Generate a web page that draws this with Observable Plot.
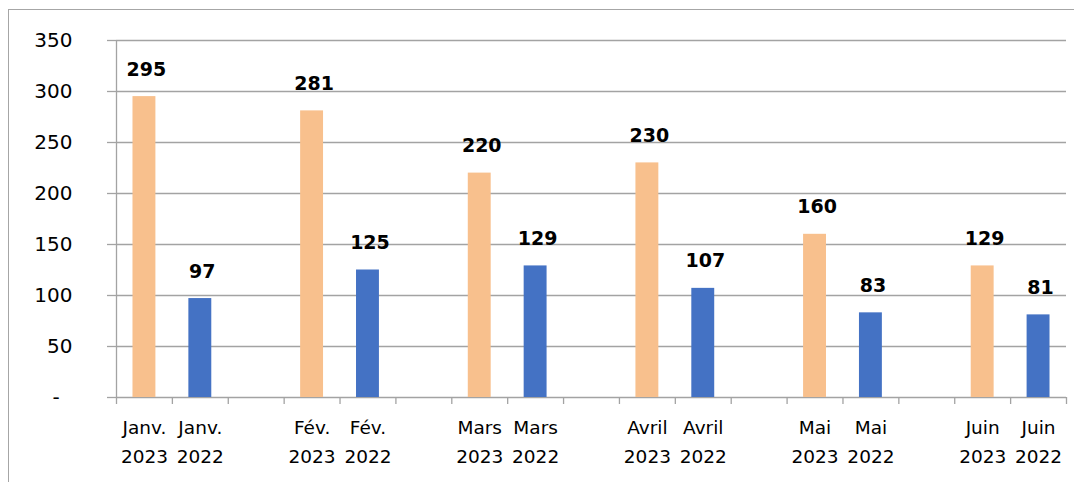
<!DOCTYPE html>
<html><head><meta charset="utf-8">
<script src="https://cdn.jsdelivr.net/npm/d3@7"></script>
<script src="https://cdn.jsdelivr.net/npm/@observablehq/plot@0.6"></script>
<style>
body{margin:0;background:#fff;}
#wrap{position:relative;width:1074px;height:482px;overflow:hidden;}
#border{position:absolute;left:8px;top:9px;right:-4px;bottom:-4px;border-top:1.5px solid #a6a6a6;border-left:1.5px solid #a6a6a6;pointer-events:none;}
</style></head><body><div id="wrap"><div id="border"></div></div>
<script>
const months = ["Janv.","Fév.","Mars","Avril","Mai","Juin"];
const years = ["2023","2022"];
const values2023 = [295,281,220,230,160,129];
const values2022 = [97,125,129,107,83,81];
const colors = ["#F8C08D","#4472C4"];
const yTicks = [0,50,100,150,200,250,300,350];

const slotsPerGroup = 3;
const nSlots = months.length * slotsPerGroup - 1;
const rows = [];
months.forEach((m, i) => {
  [values2023[i], values2022[i]].forEach((v, j) => {
    rows.push({month: m, year: years[j], value: v, slot: i * slotsPerGroup + j});
  });
});
const half = 0.205;
const gridColor = "#a3a3a3";

const chart = Plot.plot({
  width: 1074, height: 482,
  marginTop: 40, marginBottom: 85, marginLeft: 116, marginRight: 8,
  style: {fontFamily: "DejaVu Sans", fontSize: "18px", color: "#000", background: "transparent"},
  x: {domain: [0, nSlots], axis: null},
  y: {domain: [0, 350], axis: null},
  color: {domain: years, range: colors},
  marks: [
    Plot.gridY(yTicks, {stroke: gridColor, strokeOpacity: 1, strokeWidth: 1.3}),
    Plot.axisY(yTicks, {label: null, tickSize: 9, tickPadding: 35, stroke: gridColor, strokeWidth: 1.3, fill: "#000", fontSize: 20,
      tickFormat: d => d === 0 ? "-\u2007" : String(d)}),
    Plot.ruleX([0], {stroke: gridColor, strokeWidth: 1.3}),
    Plot.axisX(d3.range(nSlots + 1), {label: null, tickSize: 7, stroke: gridColor, strokeWidth: 1.3, tickFormat: () => ""}),
    Plot.rectY(rows, {x1: d => d.slot + 0.5 - half, x2: d => d.slot + 0.5 + half, y1: 0, y2: "value", fill: "year"}),
    Plot.text(rows, {x: d => d.slot + 0.5, y: "value", text: d => String(d.value), fontWeight: "bold", fontSize: 19,
      lineAnchor: "bottom", dy: -21, dx: 2, fill: "#000"}),
    Plot.text(rows, {x: d => d.slot + 0.5, y: 0, text: d => `${d.month}\n${d.year}`, lineAnchor: "top",
      dy: 16, lineHeight: 1.55, fontSize: 18.5, fill: "#000"})
  ]
});
document.getElementById("wrap").appendChild(chart);
chart.style.position = "absolute";
chart.style.left = "0";
chart.style.top = "0";
</script>
</body></html>
